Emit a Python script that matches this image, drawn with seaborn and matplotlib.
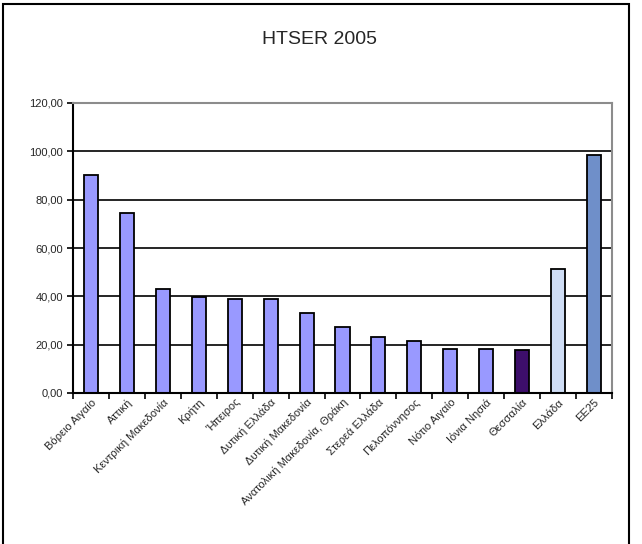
import matplotlib
matplotlib.use("Agg")
import matplotlib.pyplot as plt
import seaborn as sns
import pandas as pd
from matplotlib.patches import Rectangle
from matplotlib.ticker import FuncFormatter, FixedLocator

regions = ["Βόρειο Αιγαίο", "Αττική", "Κεντρική Μακεδονία", "Κρήτη", "Ήπειρος",
           "Δυτική Ελλάδα", "Δυτική Μακεδονία", "Ανατολική Μακεδονία, Θράκη",
           "Στερεά Ελλάδα", "Πελοπόννησος", "Νότιο Αιγαίο", "Ιόνια Νησιά",
           "Θεσσαλία", "Ελλάδα", "ΕΕ25"]
values = [90.2, 74.6, 43.2, 39.8, 39.0, 39.0, 33.2, 27.3, 23.2, 21.6, 18.2, 18.2, 17.8, 51.3, 98.5]
bar_colors = ["#9999FF"] * 12 + ["#3D0E6B", "#CFDDF5", "#6F8FC9"]
yticks = [0, 20, 40, 60, 80, 100, 120]
title = "HTSER 2005"

sns.set_theme(style="white")
plt.rcParams['font.family'] = ['Liberation Sans', 'DejaVu Sans']

df = pd.DataFrame({"region": regions, "value": values})

fig = plt.figure(figsize=(6.42, 5.44), dpi=100)
ax = fig.add_axes([73/642, 1-393/544, (612-73)/642, (393-103)/544])

sns.barplot(data=df, x="region", y="value", hue="region", palette=bar_colors,
            legend=False, width=0.39, edgecolor="black", linewidth=1.3, ax=ax,
            saturation=1)

ax.set_xlim(-0.5, len(regions) - 0.5)
ax.set_ylim(0, 120)
ax.set_yticks(yticks)
ax.yaxis.set_major_formatter(FuncFormatter(lambda v, p: f"{v:.2f}".replace(".", ",")))
ax.tick_params(axis="y", which="major", direction="out", length=4, width=1.2,
               labelsize=8, pad=3, left=True, color="black")
ax.set_xticks(range(len(regions)))
ax.set_xticklabels(regions, rotation=45, ha="right", rotation_mode="anchor", fontsize=8)
ax.tick_params(axis="x", which="major", length=0, pad=3)
ax.xaxis.set_minor_locator(FixedLocator([i - 0.5 for i in range(len(regions) + 1)]))
ax.tick_params(axis="x", which="minor", direction="out", length=4, width=1.2,
               bottom=True, color="black")
ax.set_xlabel("")
ax.set_ylabel("")

for y in yticks[1:-1]:
    ax.axhline(y, color="black", linewidth=1.2, zorder=0.5)

for side in ["left", "bottom"]:
    ax.spines[side].set_color("black")
    ax.spines[side].set_linewidth(1.5)
for side in ["top", "right"]:
    ax.spines[side].set_color("#8c8c8c")
    ax.spines[side].set_linewidth(1.5)
for p in ax.patches:
    p.set_zorder(2)

fig.text(320/642, 1-40/544, title, ha="center", va="center", fontsize=14)

fig.patches.append(Rectangle((3/642, -0.02), (629-3)/642, 1.02 - 4/544,
                             transform=fig.transFigure, fill=False,
                             edgecolor="black", linewidth=1.5))

fig.savefig("out.png", dpi=100)
